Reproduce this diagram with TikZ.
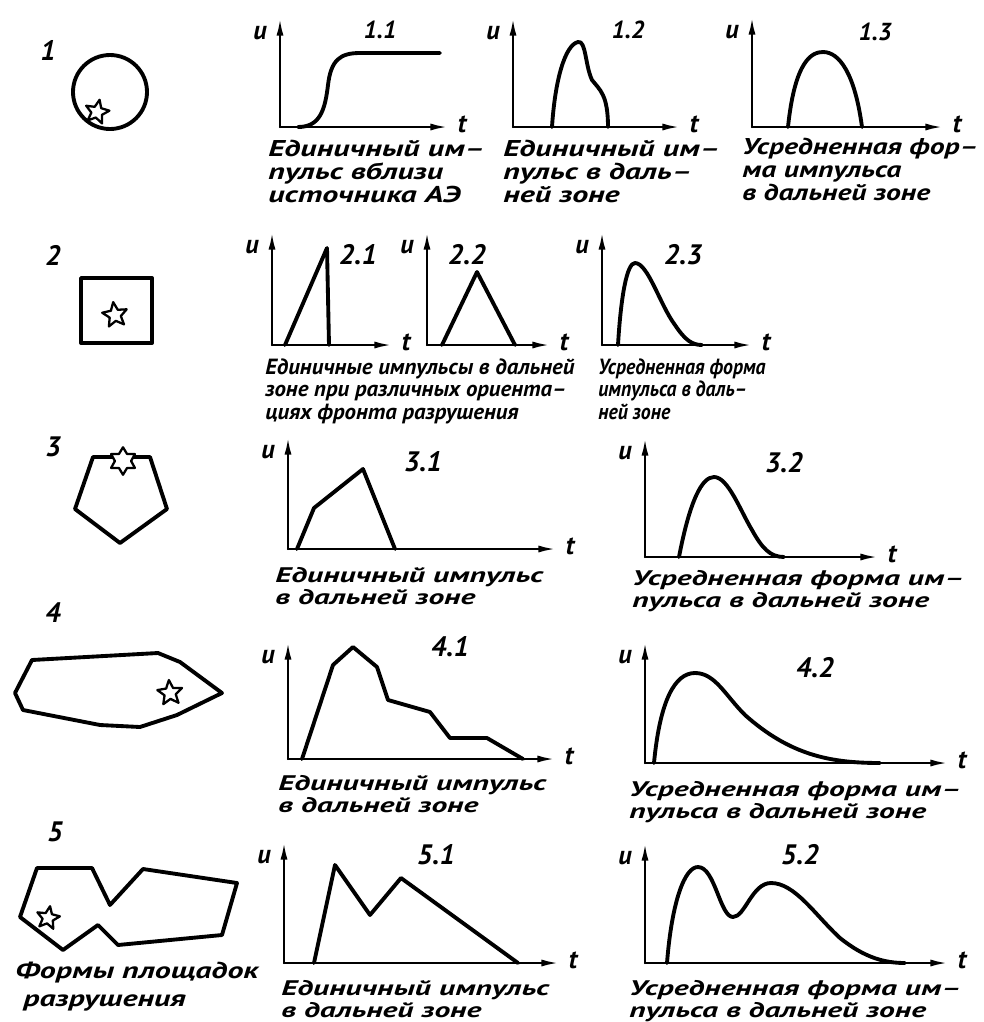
\documentclass[tikz,border=0pt]{standalone}
\usepackage{fontspec}
\setmainfont{PT Sans}
\newfontfamily\capwide[FakeStretch=1.5]{PT Sans}
\newfontfamily\captop[FakeStretch=1.4]{PT Sans}
\newfontfamily\capedge[FakeStretch=1.3]{PT Sans}
\newfontfamily\capmid[FakeStretch=1.04]{PT Sans}
\newfontfamily\capnarrow[FakeStretch=0.9]{PT Sans}
\usetikzlibrary{arrows.meta,shapes.geometric}

\begin{document}
\begin{tikzpicture}[x=0.02cm, y=-0.02cm, line join=round, line cap=round,
    axis/.style={line width=1.4pt, -{Latex[length=10pt,width=4pt]}},
    curve/.style={line width=2.2pt},
    outline/.style={line width=2.2pt},
    spark/.style={star, star points=5, star point ratio=2.2, draw, line width=1.3pt, inner sep=0pt, minimum size=#1},
    lett/.style={inner sep=0pt, font=\fontsize{15}{15}\selectfont\bfseries\itshape},
    num/.style={inner sep=0pt, font=\fontsize{16}{16}\selectfont\bfseries\itshape},
    gnum/.style={inner sep=0pt, font=\fontsize{16}{16}\selectfont\bfseries\itshape},
    capt/.style={anchor=north west, inner sep=0pt, align=left, font=\capwide\fontsize{12}{12.5}\selectfont\bfseries\itshape}]
  \useasboundingbox (0,0) rectangle (984,1022);

  % axes of all graphs: name/x0/y0/ytop/xend
  \foreach \n/\x/\y/\yt/\xe in {11/280/127/18/448, 12/513/127/18/680, 13/752/127/17/943,
      21/272/345/232/392, 22/427/345/232/550, 23/602/345/232/752,
      31/288/549/437/556, 32/645/557/438/878,
      41/288/759/642/555, 42/645/763/642/948,
      51/284/963/842/559, 52/645/963/843/948} {
    \coordinate (o\n) at (\x,\y);
    \draw[axis] (o\n) -- (\x,\yt);
    \draw[axis] (o\n) -- (\xe,\y);
    \node[lett] (u\n) at (\x-20,\yt+15) {u};
    \node[lett] (t\n) at (\xe+14,\y-3) {t};
  }

  % row numbers
  \node[num] (n1) at (48,50) {1};
  \node[num] (n2) at (53,255) {2};
  \node[num] (n3) at (53,447) {3};
  \node[num] (n4) at (53,613) {4};
  \node[num] (n5) at (55,832) {5};

  % shapes of the fracture sites
  \draw[outline] (110,92) circle[radius=37];
  \node[spark=0.5cm, rotate=-12] (s1) at (97,112) {};
  \draw[outline] (81,278) rectangle (152,343);
  \node[spark=0.52cm, rotate=8] (s2) at (115,315) {};
  \draw[outline] (93,457) -- (150,457) -- (167,509) -- (120,543) -- (75,509) -- cycle;
  \node[star, star points=6, star point ratio=1.7, draw, line width=1.3pt, inner sep=0pt, minimum size=0.55cm, fill=white] (s3) at (123,461) {};
  \draw[outline] (32,660) -- (158,653) -- (180,662) -- (222,693) -- (177,715) -- (140,727)
    -- (100,725) -- (23,710) -- (15,693) -- cycle;
  \node[spark=0.52cm, rotate=5] (s4) at (170,693) {};
  \draw[outline] (37,868) -- (92,868) -- (110,905) -- (143,869) -- (237,883) -- (222,935)
    -- (118,945) -- (98,925) -- (63,950) -- (20,917) -- cycle;
  \node[spark=0.48cm, rotate=-10] (s5) at (48,918) {};
  \node[capt, font=\captop\fontsize{13}{16}\selectfont\bfseries\itshape] (c0) at (15,962) {Формы площадок\\\ разрушения};

  % graph titles
  \node[gnum, font=\fontsize{14}{14}\selectfont\bfseries\itshape] (g11) at (380,30) {1.1};
  \node[gnum, font=\fontsize{14}{14}\selectfont\bfseries\itshape] (g12) at (628,30) {1.2};
  \node[gnum, font=\fontsize{14}{14}\selectfont\bfseries\itshape] (g13) at (875,32) {1.3};
  \node[gnum] (g21) at (358,255) {2.1};
  \node[gnum] (g22) at (467,255) {2.2};
  \node[gnum] (g23) at (683,255) {2.3};
  \node[gnum] (g31) at (423,462) {3.1};
  \node[gnum] (g32) at (784,463) {3.2};
  \node[gnum] (g41) at (450,647) {4.1};
  \node[gnum] (g42) at (815,668) {4.2};
  \node[gnum] (g51) at (436,855) {5.1};
  \node[gnum] (g52) at (800,855) {5.2};

  % pulses, row 1
  \draw[curve] (298,127) .. controls (320,127) and (325,110) .. (328,85)
    .. controls (331,60) and (340,53) .. (360,53) -- (440,53);
  \draw[curve] (552,127) .. controls (555,80) and (565,45) .. (578,42)
    .. controls (586,40) and (585,65) .. (592,80) .. controls (600,90) and (608,95) .. (608,127);
  \draw[curve] (788,127) .. controls (795,60) and (812,52) .. (823,52)
    .. controls (840,52) and (855,75) .. (862,127);
  % pulses, row 2
  \draw[curve] (285,345) -- (327,248) -- (329,345);
  \draw[curve] (442,345) -- (477,272) -- (515,345);
  \draw[curve] (618,345) .. controls (621,295) and (627,263) .. (635,263)
    .. controls (648,263) and (660,305) .. (675,325) .. controls (685,340) and (692,345) .. (702,345);
  % pulses, row 3
  \draw[curve] (297,549) -- (314,508) -- (363,469) -- (395,549);
  \draw[curve] (679,557) .. controls (690,500) and (702,477) .. (714,477)
    .. controls (728,477) and (740,510) .. (752,530) .. controls (762,548) and (770,557) .. (784,557);
  % pulses, row 4
  \draw[curve] (302,759) -- (333,665) -- (353,647) -- (377,667) -- (388,700) -- (430,712)
    -- (450,738) -- (487,738) -- (523,759);
  \draw[curve] (654,763) .. controls (660,700) and (675,673) .. (695,673)
    .. controls (715,673) and (725,695) .. (745,715) .. controls (790,755) and (830,763) .. (880,763);
  % pulses, row 5
  \draw[curve] (314,963) -- (335,865) -- (370,915) -- (401,878) -- (518,963);
  \draw[curve] (667,963) .. controls (672,900) and (685,867) .. (698,867)
    .. controls (715,867) and (720,917) .. (733,917) .. controls (745,917) and (752,883) .. (771,883)
    .. controls (795,883) and (815,915) .. (840,938) .. controls (865,958) and (885,963) .. (905,963);

  % captions
  \tikzset{capone/.style={capt, font=\captop\fontsize{13}{13}\selectfont\bfseries\itshape},
    captwo/.style={capt, font=\capmid\fontsize{12.5}{13}\selectfont\bfseries\itshape}}
  \node[capone] (c11) at (268,140) {Единичный им–\\пульс вблизи\\источника АЭ};
  \node[capone] (c12) at (503,140) {Единичный им–\\пульс в даль–\\ней зоне};
  \node[capone, font=\capedge\fontsize{13}{13}\selectfont\bfseries\itshape] (c13) at (742,138) {Усредненная фор–\\ма импульса\\в дальней зоне};
  \node[captwo] (c2) at (265,358) {Единичные импульсы в дальней\\зоне при различных ориента–\\циях фронта разрушения};
  \node[captwo, font=\capnarrow\fontsize{12.5}{13}\selectfont\bfseries\itshape] (c23) at (598,358) {Усредненная форма\\импульса в даль–\\ней зоне};
  \node[capt] (c31) at (275,567) {Единичный импульс\\в дальней зоне};
  \node[capt] (c32) at (632,570) {Усредненная форма им–\\пульса в дальней зоне};
  \node[capt] (c41) at (278,775) {Единичный импульс\\в дальней зоне};
  \node[capt] (c42) at (629,781) {Усредненная форма им–\\пульса в дальней зоне};
  \node[capt] (c51) at (281,980) {Единичный импульс\\в дальней зоне};
  \node[capt] (c52) at (629,980) {Усредненная форма им–\\пульса в дальней зоне};
\end{tikzpicture}
\end{document}
